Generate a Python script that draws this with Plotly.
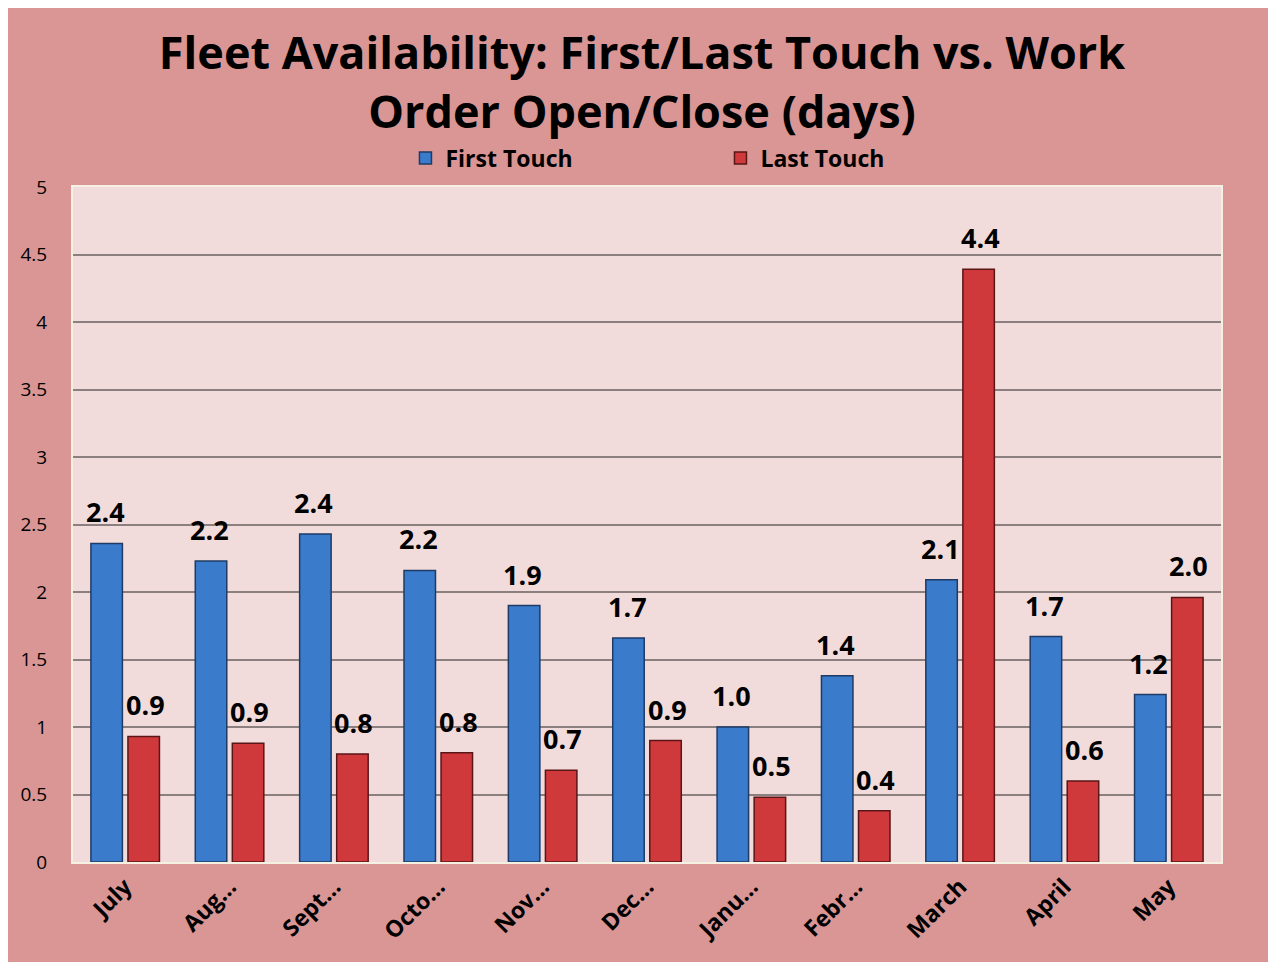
import plotly.graph_objects as go

months = ["July", "Aug…", "Sept…", "Octo…", "Nov…", "Dec…", "Janu…", "Febr…", "March", "April", "May"]
first_touch = [2.36, 2.23, 2.43, 2.16, 1.90, 1.66, 1.00, 1.38, 2.09, 1.67, 1.24]
last_touch = [0.93, 0.88, 0.80, 0.81, 0.68, 0.90, 0.48, 0.38, 4.39, 0.60, 1.96]
y_ticks = [0, 0.5, 1, 1.5, 2, 2.5, 3, 3.5, 4, 4.5, 5]
y_tick_text = ["0", "0.5", "1", "1.5", "2", "2.5", "3", "3.5", "4", "4.5", "5"]

FONT = "Open Sans"
W, H = 1268, 954
L, R, T, B = 62, 55, 179, 100
PW, PH = W - L - R, H - T - B

fig = go.Figure()
fig.add_trace(go.Bar(
    name="First Touch", x=months, y=first_touch,
    marker=dict(color="#3B7BCB", line=dict(color="#1E3B66", width=1.5)),
))
fig.add_trace(go.Bar(
    name="Last Touch", x=months, y=last_touch,
    marker=dict(color="#D0393C", line=dict(color="#5A1517", width=1.5)),
))

# value labels above bars
for vals, shift in ((first_touch, -20), (last_touch, 20)):
    for m, v in zip(months, vals):
        fig.add_annotation(
            x=m, y=v, xref="x", yref="y", text=f"{v:.1f}", showarrow=False,
            xshift=shift, yshift=11, yanchor="bottom",
            font=dict(family=FONT, size=27, color="black", weight="bold"),
        )

fig.update_layout(
    width=W, height=H,
    margin=dict(l=L, r=R, t=T, b=B),
    paper_bgcolor="#D99694",
    plot_bgcolor="#F2DCDB",
    barmode="group", bargap=0.29, bargroupgap=0.15,
    title=dict(
        text="Fleet Availability: First/Last Touch vs. Work<br>Order Open/Close (days)",
        x=0.5, xanchor="center", y=1 - 61 / H, yanchor="middle",
        font=dict(family=FONT, size=45, color="black", weight="bold"),
    ),
    legend=dict(
        orientation="h", x=0.564, xanchor="center", y=1.0 + 29 / PH, yanchor="middle",
        font=dict(family=FONT, size=23, color="black", weight="bold"),
        entrywidth=270, bgcolor="rgba(0,0,0,0)",
    ),
    showlegend=True,
    font=dict(family=FONT, color="black"),
)
fig.update_yaxes(
    range=[0, 5], tickvals=y_ticks, ticktext=y_tick_text,
    showgrid=True, gridcolor="#8C7F7F", gridwidth=2,
    zeroline=False, showline=True, linecolor="#F4F0E2", linewidth=2, mirror=True,
    tickfont=dict(family=FONT, size=19, color="black"), ticklabelstandoff=20,
)
fig.update_xaxes(
    tickangle=-45, showline=True, linecolor="#F4F0E2", linewidth=2, mirror=True,
    tickfont=dict(family=FONT, size=23, color="black", weight="bold"),
)
fig.write_html("out.html")
